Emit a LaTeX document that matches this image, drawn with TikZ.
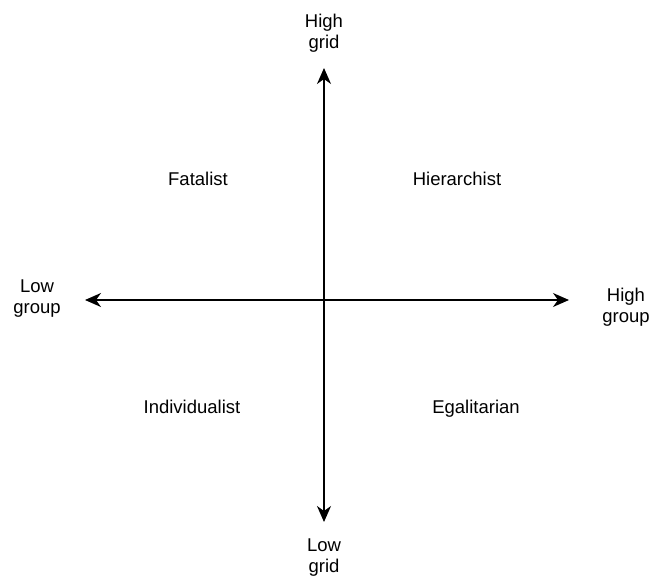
\documentclass[tikz,border=0pt]{standalone}
\usepackage{fontspec}
\setmainfont{Liberation Sans}
\usetikzlibrary{positioning,arrows.meta}

\tikzset{
  axisline/.style={line width=1.5pt,{Stealth[length=16pt,width=14pt,inset=5pt]}-{Stealth[length=16pt,width=14pt,inset=5pt]}},
  endlabel/.style={align=center,inner sep=0pt,font=\fontsize{18.5}{21}\selectfont},
  quadlabel/.style={anchor=base,inner sep=0pt,font=\fontsize{18.5}{21}\selectfont}
}

\begin{document}
\begin{tikzpicture}[x=1pt,y=-1pt]
  \useasboundingbox (0,0) rectangle (650,577);
  % axis ends
  \coordinate (gridhi) at (324,68);
  \coordinate (gridlo) at (324,522);
  \coordinate (grouplo) at (85,300);
  \coordinate (grouphi) at (569,300);
  \draw[axisline] (gridhi) -- (gridlo);
  \draw[axisline] (grouplo) -- (grouphi);
  % end labels
  \node[endlabel] (highgrid) at (324,33) {High\\grid};
  \node[endlabel] (lowgrid) at (324,558) {Low\\grid};
  \node[endlabel] (lowgroup) at (37,299) {Low\\group};
  \node[endlabel] (highgroup) at (626,307) {High\\group};
  % quadrants
  \node[quadlabel] (fatalist) at (198,186) {Fatalist};
  \node[quadlabel] (hierarchist) at (457,186) {Hierarchist};
  \node[quadlabel] (individualist) at (192,413) {Individualist};
  \node[quadlabel] (egalitarian) at (476,413) {Egalitarian};
\end{tikzpicture}
\end{document}
